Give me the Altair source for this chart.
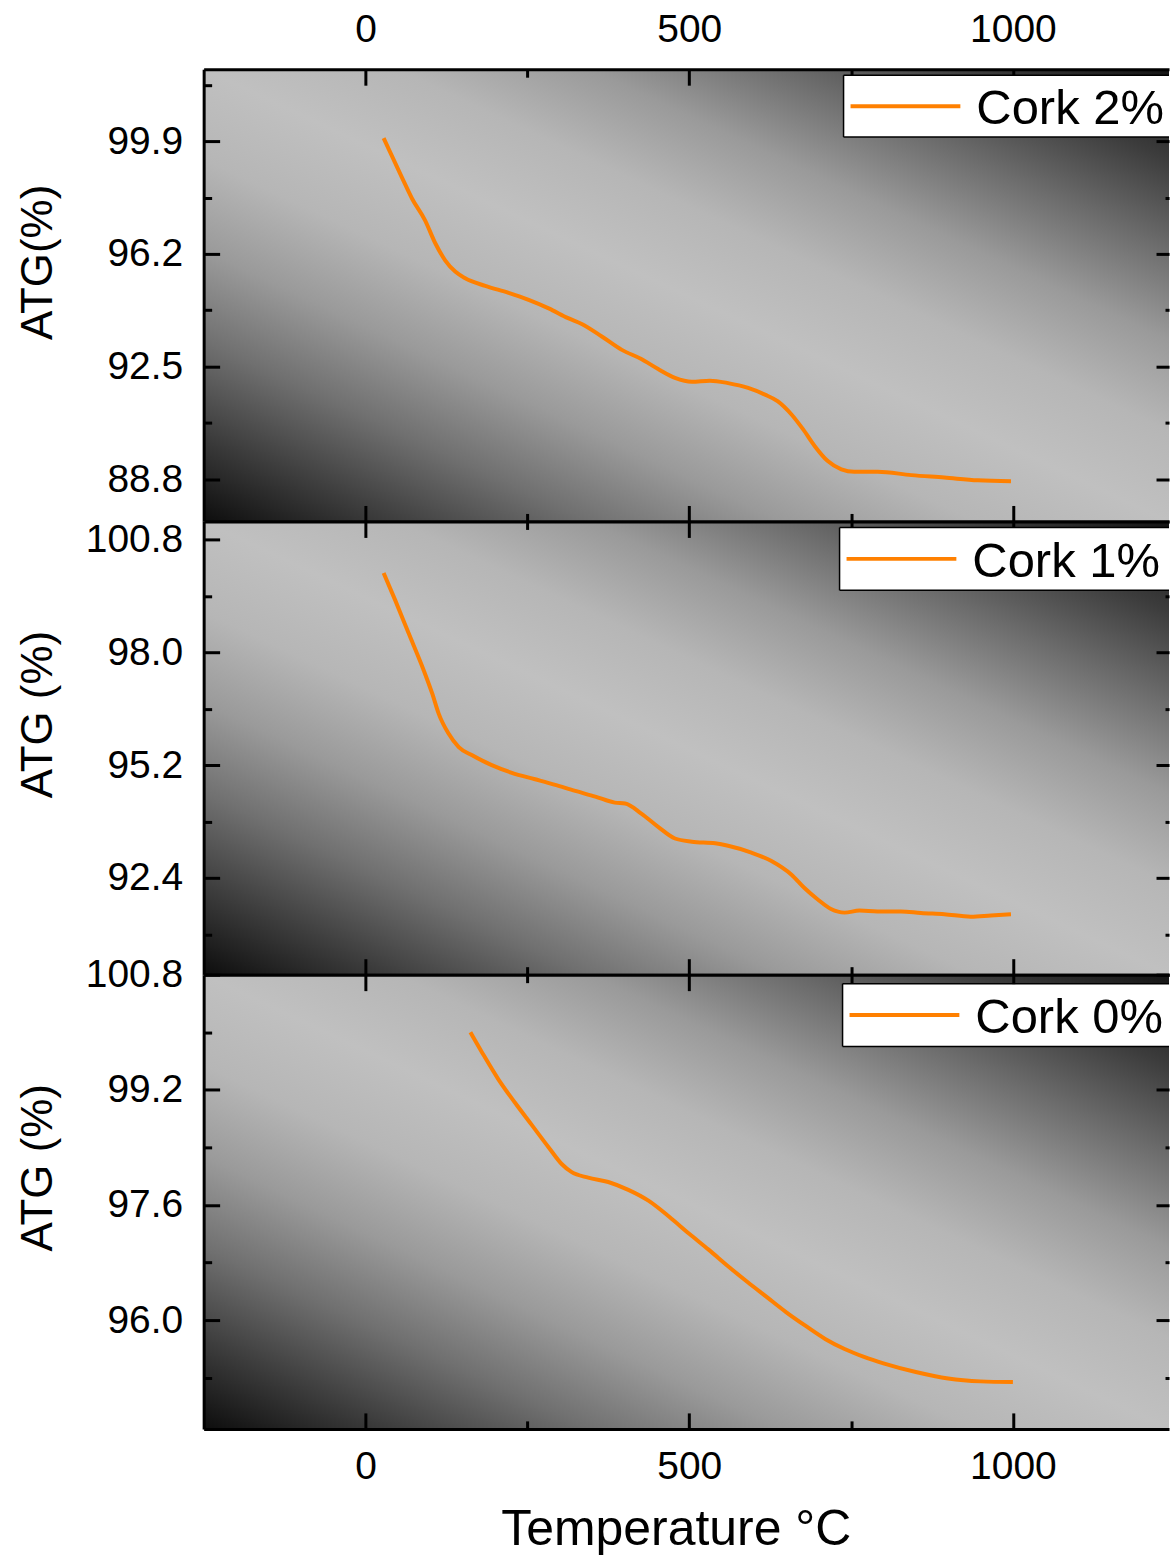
import altair as alt
import pandas as pd

# ---------------- data ----------------
SERIES = ["Cork 2%", "Cork 1%", "Cork 0%"]
Y_TITLES = ["ATG(%)", "ATG (%)", "ATG (%)"]

T2 = [28, 56, 72, 92, 108, 123, 139, 154, 185, 221, 252, 283, 313, 334, 365, 396, 426, 452, 478, 504,
      532, 560, 591, 617, 637, 658, 676, 694, 714, 735, 755, 791, 843, 894, 946, 997]
A2 = [100.00, 98.72, 98.01, 97.30, 96.54, 95.99, 95.61, 95.40, 95.15, 94.92, 94.69, 94.41, 94.09, 93.90,
      93.49, 93.05, 92.75, 92.42, 92.13, 92.00, 92.04, 91.96, 91.80, 91.58, 91.36, 90.93, 90.44, 89.89,
      89.40, 89.13, 89.05, 89.05, 88.94, 88.86, 88.77, 88.74]

T1 = [28, 46, 67, 90, 103, 113, 128, 144, 164, 195, 226, 262, 293, 324, 355, 385, 401, 426, 452, 478,
      504, 540, 560, 596, 627, 658, 678, 699, 719, 740, 763, 791, 827, 858, 894, 935, 966, 997]
A1 = [99.97, 99.29, 98.46, 97.55, 96.98, 96.48, 95.99, 95.65, 95.45, 95.20, 95.01, 94.85, 94.71, 94.56,
      94.42, 94.27, 94.25, 94.00, 93.67, 93.38, 93.30, 93.26, 93.20, 93.03, 92.82, 92.48, 92.15, 91.86,
      91.63, 91.54, 91.59, 91.57, 91.57, 91.53, 91.50, 91.44, 91.47, 91.50]

T0 = [162, 180, 205, 231, 257, 283, 303, 318, 344, 375, 406, 437, 470, 500, 530, 560, 590, 620, 650,
      680, 710, 740, 770, 800, 850, 900, 950, 1000]
A0 = [100.00, 99.72, 99.35, 99.02, 98.71, 98.40, 98.17, 98.06, 97.98, 97.92, 97.81, 97.66, 97.43,
      97.20, 96.98, 96.75, 96.53, 96.32, 96.11, 95.92, 95.74, 95.60, 95.49, 95.40, 95.28, 95.19, 95.15,
      95.14]

TEMPS = [T2, T1, T0]
VALUES = [A2, A1, A0]

Y_DOMAINS = [[87.42, 102.26], [90.0, 101.25], [94.49, 100.8]]
Y_MAJOR = [[88.8, 92.5, 96.2, 99.9], [92.4, 95.2, 98.0, 100.8], [96.0, 97.6, 99.2, 100.8]]
Y_MINOR = [[90.65, 94.35, 98.05, 101.75], [91.0, 93.8, 96.6, 99.4], [95.2, 96.8, 98.4, 100.0]]
# right-side ticks that are not hidden behind the legend box
Y_MAJOR_RIGHT = [[88.8, 92.5, 96.2, 99.9], [92.4, 95.2, 98.0], [96.0, 97.6, 99.2, 100.8]]
Y_MINOR_RIGHT = [[90.65, 94.35, 98.05], [91.0, 93.8, 96.6, 99.4], [95.2, 96.8, 98.4]]
X_DOMAIN = [-250, 1241.1]
X_MAJOR = [0, 500, 1000]
X_MINOR = [250, 750]
# top ticks partly hidden by the legend box: only a short stub stays visible
X_TOP_MINOR = [[250], [250], [250, 750]]
X_TOP_STUB = [[750, 1000], [750, 1000], [1000]]
X_TITLE = "Temperature °C"

# ---------------- styling ----------------
W = 967
HEIGHTS = [453, 454, 455]
FONT = "Liberation Sans"
ORANGE = "#FF8000"
LEG_BOX = [(641, 6, 62), (637, 6, 63), (640, 9, 63)]  # x, y, height of legend box in panel px
STUB_LEN = [6, 6, 9]

STOPS = [(0.0, "#0d0d0d"), (0.1, "#3e3e3e"), (0.2, "#707070"), (0.3, "#9a9a9a"), (0.4, "#b6b6b6"),
         (0.5, "#c0c0c0"), (0.6, "#b6b6b6"), (0.7, "#9a9a9a"), (0.8, "#6c6c6c"), (0.9, "#3c3c3c"),
         (1.0, "#141414")]
GRAD = alt.LinearGradient(gradient="linear", x1=0, y1=1, x2=1, y2=0,
                          stops=[alt.GradientStop(offset=o, color=c) for o, c in STOPS])


def tick_axis(orient, values, size, tick_color="black", **kw):
    return alt.Axis(orient=orient, values=values, tickSize=size, offset=-size, ticks=True,
                    tickColor=tick_color, tickWidth=3, domain=False, grid=False, zindex=1, **kw)


def frame_axis(orient):
    return alt.Axis(orient=orient, domain=True, domainColor="black", domainWidth=3,
                    ticks=False, labels=False, grid=False, title=None, zindex=1)


def panel(i):
    H = HEIGHTS[i]
    df = pd.DataFrame({"T": TEMPS[i], "V": VALUES[i]})
    xs = alt.Scale(domain=X_DOMAIN, nice=False, zero=False)
    ys = alt.Scale(domain=Y_DOMAINS[i], nice=False, zero=False)
    lab = dict(labelFont=FONT, labelFontSize=39, labelColor="black", labelFlush=False,
               labelOverlap=False)

    # bottom major axis
    if i == 2:
        xb = tick_axis("bottom", X_MAJOR, 16, labels=True, labelPadding=19, format="d",
                       title=X_TITLE, titleFont=FONT, titleFontSize=50, titleFontWeight="normal",
                       titleColor="black", titleX=473, titleY=132, titleAlign="center",
                       titleBaseline="alphabetic", titleAngle=0, **lab)
    else:
        xb = tick_axis("bottom", X_MAJOR, 16, labels=False, title=None)

    yl = tick_axis("left", Y_MAJOR[i], 16, labels=True, labelPadding=21, format=".1f",
                   title=Y_TITLES[i], titleFont=FONT, titleFontSize=44, titleFontWeight="normal",
                   titleColor="black", titleAngle=270, titleAlign="center",
                   titleBaseline="alphabetic", titleX=-168, titleY=193, **lab)

    bg = alt.Chart(pd.DataFrame({"k": [0]})).mark_rect(fill=GRAD).encode(
        x=alt.value(0), x2=alt.value(W), y=alt.value(0), y2=alt.value(H))

    line = alt.Chart(df).mark_line(color=ORANGE, strokeWidth=4, interpolate="monotone").encode(
        x=alt.X("T:Q", scale=xs, axis=xb),
        y=alt.Y("V:Q", scale=ys, axis=yl))

    ghost = alt.Chart(df).mark_line(opacity=0)
    g1 = ghost.encode(
        x=alt.X("T:Q", scale=xs, axis=tick_axis("bottom", X_MINOR, 8, labels=False, title=None)),
        y=alt.Y("V:Q", scale=ys, axis=tick_axis("left", Y_MINOR[i], 8, labels=False, title=None)))

    # top major ticks: the ones behind the legend are made transparent (stubs drawn separately)
    stub_test = " || ".join(f"datum.value == {v}" for v in X_TOP_STUB[i])
    top_color = {"condition": {"test": stub_test, "value": "transparent"}, "value": "black"}
    if i == 0:
        xt = tick_axis("top", X_MAJOR, 16, tick_color=top_color, labels=True, labelPadding=20,
                       format="d", title=None, **lab)
    else:
        xt = tick_axis("top", X_MAJOR, 16, tick_color=top_color, labels=False, title=None)
    g2 = ghost.encode(
        x=alt.X("T:Q", scale=xs, axis=xt),
        y=alt.Y("V:Q", scale=ys,
                axis=tick_axis("right", Y_MAJOR_RIGHT[i], 13, labels=False, title=None)))
    g3 = ghost.encode(
        x=alt.X("T:Q", scale=xs, axis=tick_axis("top", X_TOP_MINOR[i], 8, labels=False, title=None)),
        y=alt.Y("V:Q", scale=ys,
                axis=tick_axis("right", Y_MINOR_RIGHT[i], 4, labels=False, title=None)))
    g4 = ghost.encode(
        x=alt.X("T:Q", scale=xs, axis=frame_axis("bottom")),
        y=alt.Y("V:Q", scale=ys, axis=frame_axis("left")))
    g5 = ghost.encode(
        x=alt.X("T:Q", scale=xs, axis=frame_axis("top")),
        y=alt.Y("V:Q", scale=ys, axis=None))
    g6 = ghost.encode(
        x=alt.X("T:Q", scale=xs,
                axis=tick_axis("top", X_TOP_STUB[i], STUB_LEN[i], labels=False, title=None)),
        y=alt.Y("V:Q", scale=ys, axis=None))

    # legend box
    lx, ly, lh = LEG_BOX[i]
    leg = alt.Chart(pd.DataFrame({"S": [SERIES[i]]}))
    box = leg.mark_rect(fill="white").encode(
        x=alt.value(lx), x2=alt.value(W), y=alt.value(ly), y2=alt.value(ly + lh))
    b_top = leg.mark_rule(color="black", strokeWidth=1.5).encode(
        x=alt.value(lx), x2=alt.value(W), y=alt.value(ly))
    b_bot = leg.mark_rule(color="black", strokeWidth=1.5).encode(
        x=alt.value(lx), x2=alt.value(W), y=alt.value(ly + lh))
    b_left = leg.mark_rule(color="black", strokeWidth=1.5).encode(
        x=alt.value(lx), y=alt.value(ly), y2=alt.value(ly + lh))
    sym = leg.mark_rule(color=ORANGE, strokeWidth=4).encode(
        x=alt.value(lx + 7), x2=alt.value(lx + 117), y=alt.value(ly + lh / 2))
    txt = leg.mark_text(align="left", baseline="middle", font=FONT, fontSize=49, color="black").encode(
        x=alt.value(lx + 133), y=alt.value(ly + lh / 2 + 3), text="S:N")

    return alt.layer(bg, g4, g5, g6, line, g1, g2, g3, box, b_top, b_bot, b_left, sym, txt).resolve_axis(
        x="independent", y="independent").properties(width=W, height=H)


chart = alt.vconcat(panel(0), panel(1), panel(2), spacing=0, bounds="flush").configure_view(
    stroke="transparent").properties(
    padding={"left": 16, "top": 8, "right": 0, "bottom": 0}, background="white")

chart.save("out.html", embed_options={"renderer": "svg", "actions": False})
